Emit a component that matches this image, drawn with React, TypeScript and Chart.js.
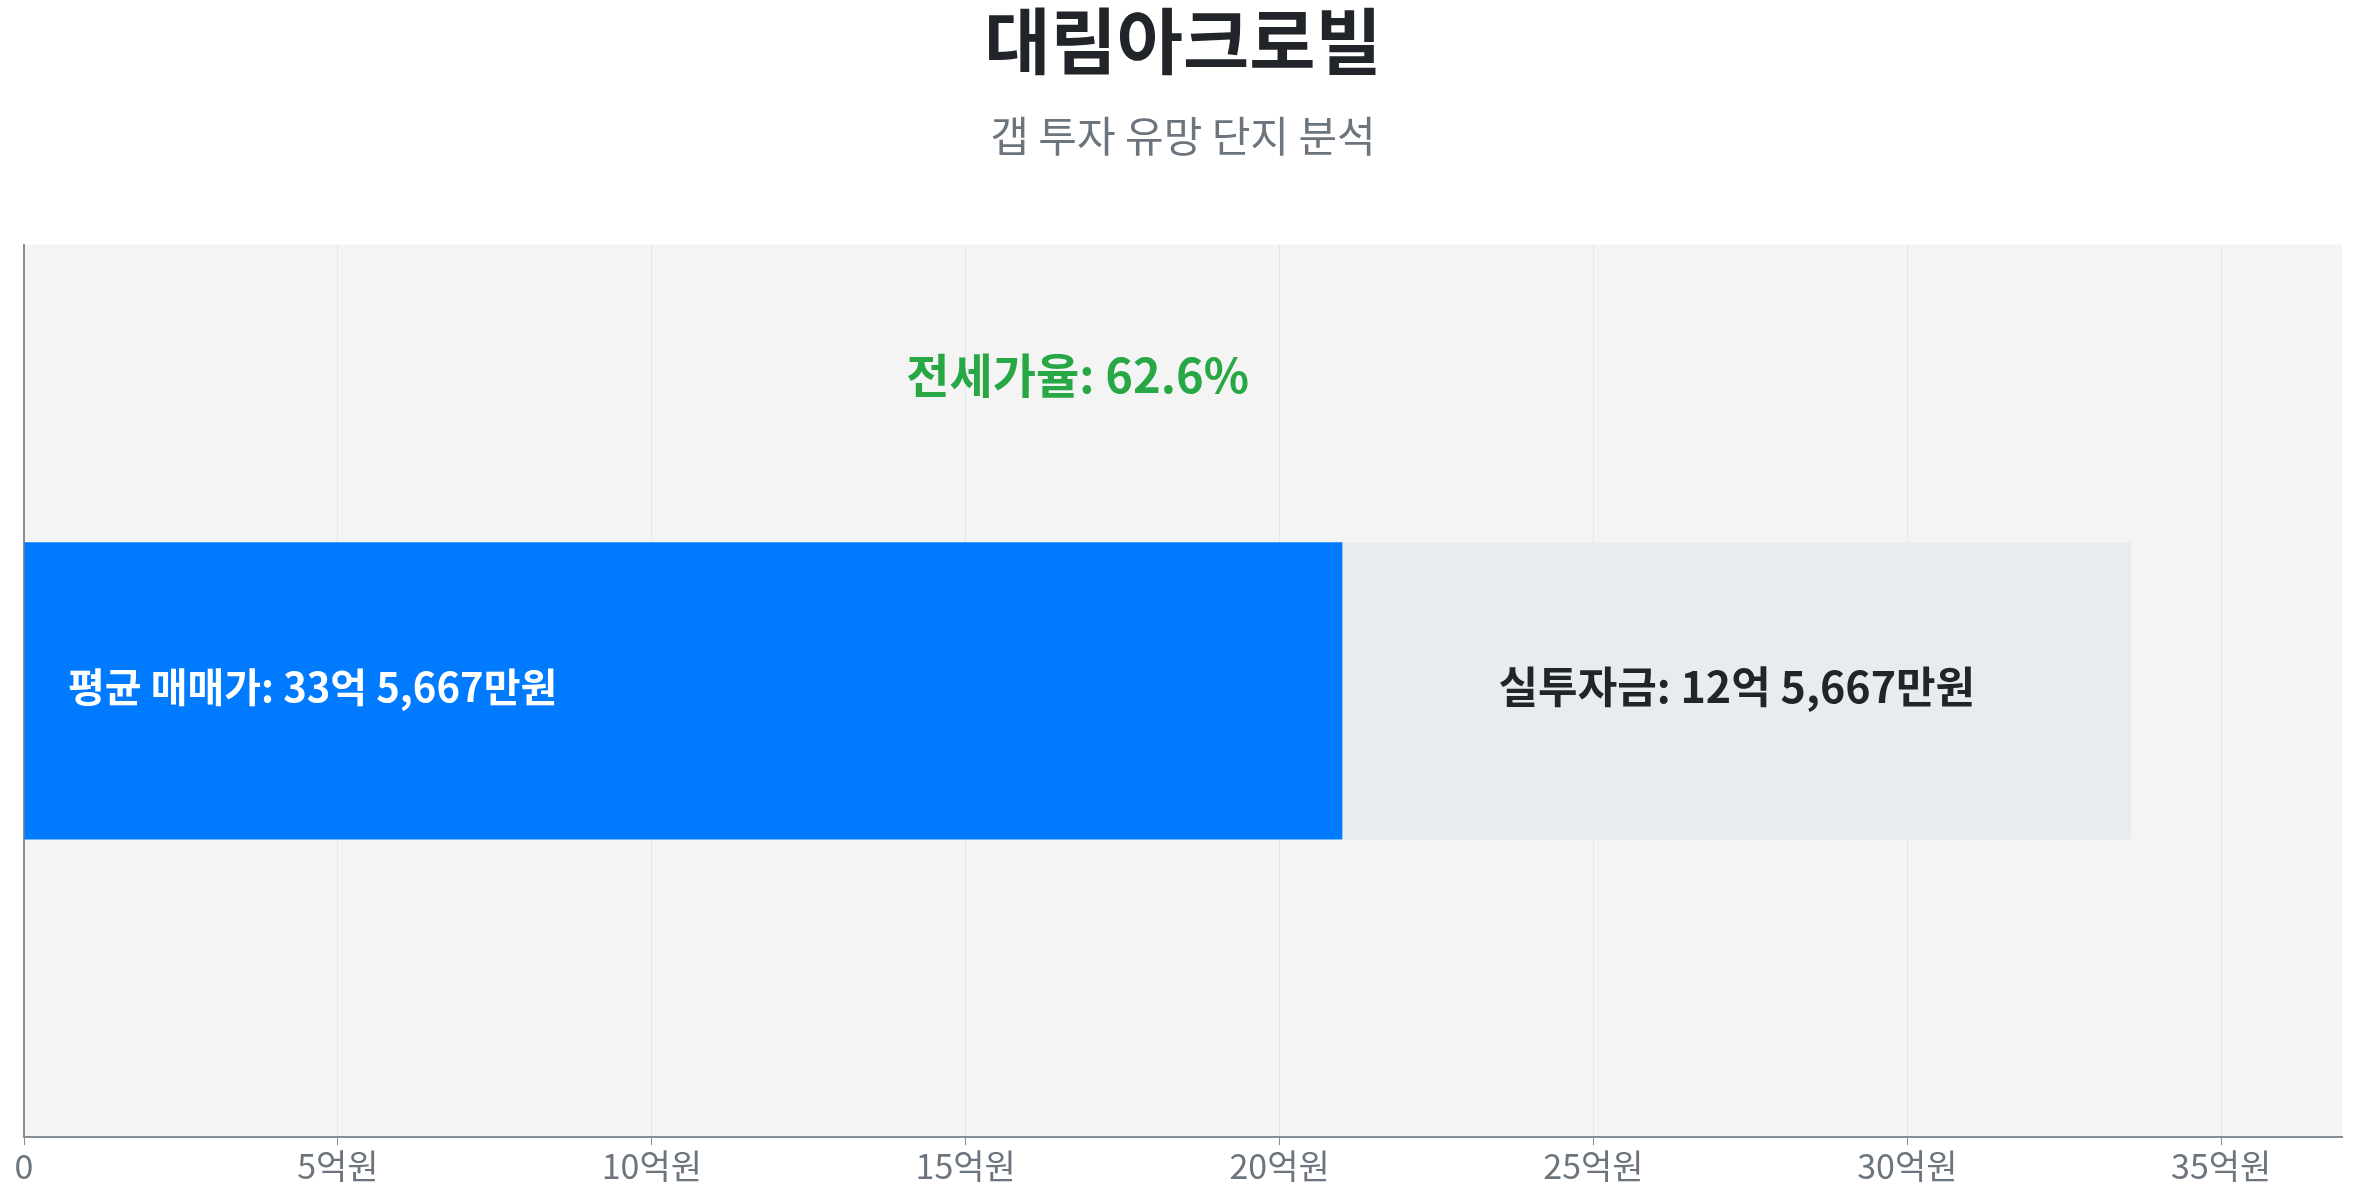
import React, { useEffect, useRef } from "react";
import { Chart, registerables } from "chart.js";

Chart.register(...registerables);

const titleText = "대림아크로빌";
const subtitleText = "갭 투자 유망 단지 분석";
const categories = ["대림아크로빌"];
const jeonseValues = [21.0]; // 억원 (전세가)
const gapValues = [12.5667]; // 억원 (실투자금)
const tickStep = 5;

const FONT = "'Noto Sans CJK KR', 'Noto Sans', sans-serif";

function formatEok(v: number): string {
  const eok = Math.floor(v + 1e-9);
  const man = Math.round((v - eok) * 10000);
  if (man === 0) return `${eok}억원`;
  return `${eok}억 ${man.toLocaleString("en-US")}만원`;
}

const totalValues = jeonseValues.map((j, i) => j + gapValues[i]);

const bgPlugin = {
  id: "plotBg",
  beforeDraw(chart: any) {
    const { ctx, chartArea } = chart;
    ctx.save();
    ctx.fillStyle = "#f4f4f4";
    ctx.fillRect(chartArea.left, chartArea.top, chartArea.right - chartArea.left, chartArea.bottom - chartArea.top);
    ctx.restore();
  },
};

const labelPlugin = {
  id: "barLabels",
  afterDatasetsDraw(chart: any) {
    const { ctx, chartArea, scales } = chart;
    const m0 = chart.getDatasetMeta(0);
    const m1 = chart.getDatasetMeta(1);
    const b0 = m0.data[0] as any;
    const b1 = m1.data[0] as any;
    if (!b0 || !b1) return;
    const total = totalValues[0];
    ctx.save();
    ctx.textBaseline = "middle";
    // blue label
    ctx.font = `bold 40px ${FONT}`;
    ctx.fillStyle = "#ffffff";
    ctx.textAlign = "left";
    ctx.fillText(`평균 매매가: ${formatEok(total)}`, chartArea.left + 44, b0.y - 4);
    // gap label
    ctx.font = `bold 43px ${FONT}`;
    ctx.fillStyle = "#212529";
    ctx.textAlign = "center";
    ctx.fillText(`실투자금: ${formatEok(gapValues[0])}`, (b1.base + b1.x) / 2, b1.y - 4);
    // jeonse rate
    const rate = (jeonseValues[0] / total) * 100;
    ctx.font = `bold 47px ${FONT}`;
    ctx.fillStyle = "#28a745";
    ctx.textAlign = "center";
    const top = b0.y - b0.height / 2;
    ctx.fillText(`전세가율: ${rate.toFixed(1)}%`, scales.x.getPixelForValue(total / 2), top - 167);
    ctx.restore();
  },
};

export default function App() {
  const ref = useRef<HTMLCanvasElement | null>(null);
  useEffect(() => {
    if (!ref.current) return;
    const chart = new Chart(ref.current, {
      type: "bar",
      data: {
        labels: categories,
        datasets: [
          {
            label: "전세가",
            data: jeonseValues,
            backgroundColor: "#007bff",
            borderWidth: 0,
            barPercentage: 0.333,
            categoryPercentage: 1,
          },
          {
            label: "실투자금",
            data: gapValues,
            backgroundColor: "#e9ecef",
            borderWidth: 0,
            barPercentage: 0.333,
            categoryPercentage: 1,
          },
        ],
      },
      options: {
        indexAxis: "y",
        animation: false,
        responsive: true,
        maintainAspectRatio: false,
        layout: { padding: { left: 24, right: 15, top: 0, bottom: 14 } },
        plugins: {
          legend: { display: false },
          tooltip: { enabled: false },
          title: {
            display: true,
            text: titleText,
            color: "#212529",
            font: { family: FONT, size: 72, weight: "bold", lineHeight: 1.1 },
            padding: { top: 1, bottom: 31 },
          },
          subtitle: {
            display: true,
            text: subtitleText,
            color: "#6c757d",
            font: { family: FONT, size: 42, weight: "normal", lineHeight: 1.2 },
            padding: { top: 0, bottom: 83 },
          },
        },
        scales: {
          x: {
            stacked: true,
            min: 0,
            max: totalValues[0] * 1.1,
            grid: {
              color: "#e6e6e6",
              lineWidth: 1,
              drawTicks: true,
              tickLength: 8,
              tickColor: "#868e96",
            },
            border: { display: true, color: "#868e96", width: 2 },
            ticks: {
              stepSize: tickStep,
              includeBounds: false,
              padding: 0,
              color: "#6c757d",
              font: { family: FONT, size: 34 },
              callback: (v: any) => (Number(v) === 0 ? "0" : `${v}억원`),
            },
          },
          y: {
            stacked: true,
            grid: { display: false, drawTicks: false },
            border: { display: true, color: "#868e96", width: 2 },
            ticks: { display: false },
          },
        },
      },
      plugins: [bgPlugin, labelPlugin],
    });
    return () => chart.destroy();
  }, []);
  return (
    <div style={{ position: "fixed", left: 0, top: 0, width: "100vw", height: "100vh", background: "#fff" }}>
      <canvas ref={ref} />
    </div>
  );
}
